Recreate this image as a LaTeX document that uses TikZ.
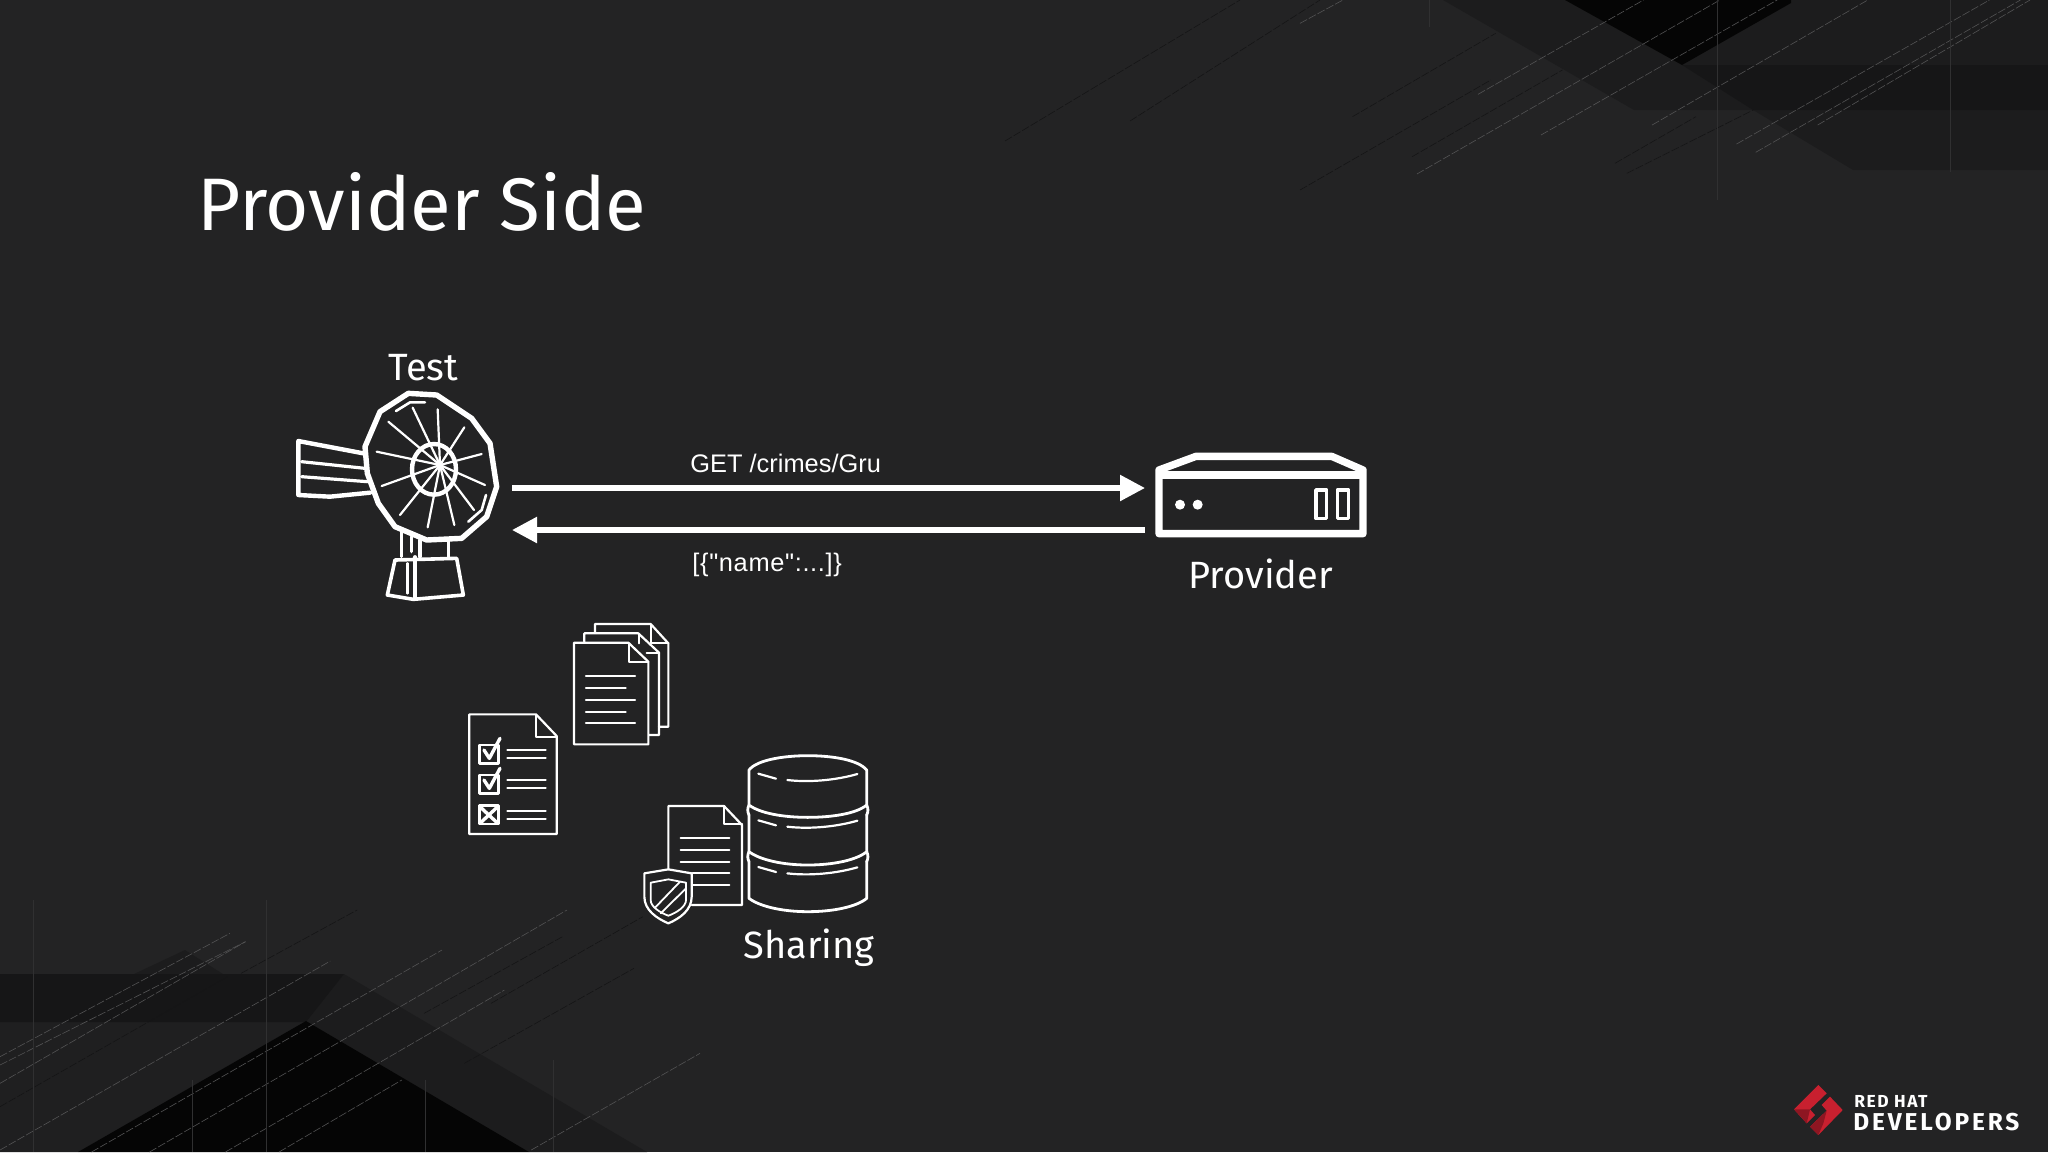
\documentclass[tikz,border=0pt]{standalone}
\usepackage{fontspec}
\setmainfont{Fira Sans}
\newfontfamily\helv{Liberation Sans}
\usetikzlibrary{arrows.meta}
\definecolor{slide}{HTML}{232324}
\definecolor{shadelow}{HTML}{1F1F20}
\definecolor{shadea}{HTML}{1C1C1D}
\definecolor{shadeb}{HTML}{161617}
\definecolor{shadec}{HTML}{050505}
\definecolor{redhat}{HTML}{C8202F}
\definecolor{redhatdark}{HTML}{8E1622}
\tikzset{zoomed/.style={x=0.16667pt,y=-0.16667pt},
         icon/.style={draw=white,line width=1.1pt,line join=round,line cap=round},
         bold/.style={icon,line width=2.7pt},
         backing/.style={icon,fill=slide},
         anchorbox/.style={inner sep=0pt,outer sep=0pt,draw=none},
         slidetext/.style={text=white,anchor=base west,inner sep=0pt},
         reqtext/.style={slidetext,font=\helv\fontsize{12.7}{14}\selectfont},
         iconlabel/.style={slidetext,font=\fontsize{19}{22}\selectfont},
         flow/.style={draw=white,line width=2.7pt,-{Triangle[length=12.5pt,width=12.5pt]}},
         streak/.style={line width=0.3pt,dash pattern=on 4pt off 1pt},
         lightstreak/.style={streak,draw=white!22!slide},
         darkstreak/.style={streak,draw=black!40!slide},
         plumb/.style={line width=0.3pt,draw=white!6!slide}}

\begin{document}
\begin{tikzpicture}[x=0.5pt,y=-0.5pt]
    \useasboundingbox (0,0) rectangle (2048,1152);
    \fill[slide] (0,0) rectangle (2048,1152);

    \fill[shadea] (1443,0) -- (1634,110) -- (1753,110) -- (1853,170) -- (2048,170) -- (2048,0) -- cycle;
    \fill[shadeb] (1682,65) -- (2048,65) -- (2048,110) -- (1753,110) -- cycle;
    \fill[shadec] (1565,0) -- (1682,65) -- (1791,3) -- (1791,0) -- cycle;
    \fill[shadelow] (0,1022) -- (304,1022) -- (78,1152) -- (0,1152) -- cycle;
    \fill[shadea] (134,974) -- (185,950) -- (223,974) -- cycle;
    \fill[shadea] (344,974) -- (647,1152) -- (529,1152) -- (306,1021) -- cycle;
    \fill[shadeb] (0,974) -- (344,974) -- (306,1022) -- (0,1022) -- cycle;
    \fill[shadec] (306,1021) -- (529,1152) -- (78,1152) -- cycle;

    \begin{scope}[shift={(1300,0)},x=0.23855pt,y=-0.16667pt]
        \foreach \xa/\ya/\xb/\yb in {373/283/720/0,245/522/880/0,505/405/1000/0,738/375/1190/0,915/432/1445/0,955/457/1510/0,1085/375/1530/0,0/70/90/0}
            \draw[lightstreak] (\xa,\ya) -- (\xb,\yb);
        \foreach \xa/\ya/\xb/\yb in {110/350/410/100,235/470/550/210,0/570/400/240,660/490/830/350,685/520/950/330}
            \draw[darkstreak] (\xa,\ya) -- (\xb,\yb);
        \foreach \xa/\ya/\xb in {875/600/875,1363/515/1363,272/80/272}
            \draw[plumb] (\xa,\ya) -- (\xb,0);
    \end{scope}
    \begin{scope}[shift={(0,900)},x=0.22321pt,y=-0.16667pt]
        \foreach \xa/\ya/\xb/\yb in {0/470/515/100,0/495/550/125,0/550/550/125,0/750/740/183,205/756/990/150,335/756/1270/30,505/756/1130/270,625/756/900/540,1190/750/1568/460}
            \draw[lightstreak] (\xa,\ya) -- (\xb,\yb);
        \foreach \xa/\ya/\xb/\yb in {540/220/800/30,950/340/1260/110,1040/490/1420/205,1100/310/1440/50,0/620/510/230}
            \draw[darkstreak] (\xa,\ya) -- (\xb,\yb);
        \foreach \xa/\ya in {430/540,597/0,952/540,75/0,1240/480}
            \draw[plumb] (\xa,\ya) -- (\xa,756);
    \end{scope}
    \draw[darkstreak] (1005,141) -- (1240,0);
    \draw[darkstreak] (1130,121) -- (1320,0);

    \node[slidetext,font=\fontsize{37.2}{44}\selectfont] (title) at (197,230) {Provider Side};
    \node[iconlabel] (testlabel) at (388,380) {Test};
    \node[iconlabel] (providerlabel) at (1188,588) {Provider};
    \node[iconlabel] (sharinglabel) at (743,958) {Sharing};
    \node[reqtext] (getlabel) at (690,472) {GET /crimes/Gru};
    \node[reqtext,font=\helv\fontsize{12.7}{14}\selectfont\addfontfeature{LetterSpace=2.6}] (replylabel) at (692,571) {[\{"name":...]\}};

    \begin{scope}[shift={(280,340)},zoomed]
        \draw[bold] (385,160) -- (470,165) -- (575,235) -- (630,310) -- (650,440) -- (620,530) -- (545,595) -- (440,600) -- (345,560) -- (295,490) -- (262,400) -- (255,320) -- (300,215) -- cycle;
        \draw[icon,line width=1.3pt] (348,213) -- (390,187) -- (435,187);
        \draw[icon,line width=1.3pt] (565,545) -- (605,510) -- (618,465);
        \foreach \xa/\ya in {398/203,473/208,553/262,605/342,615/435,582/510,523/555,443/562,360/525,305/438,290/335,325/245}
            \draw[icon] (\xa,\ya) -- (480,375);
        \draw[icon,line width=2.2pt] (462,388) ellipse [x radius=66,y radius=76];
        \draw[icon,line width=2.2pt] (250,340) -- (55,303) -- (55,465) -- (150,470) -- (270,458);
        \draw[icon,line width=1.6pt] (65,365) -- (255,385);
        \draw[icon,line width=1.6pt] (65,410) -- (262,425);
        \draw[icon,line width=1.6pt] (365,570) -- (365,650);
        \draw[icon,line width=1.6pt] (395,590) -- (395,635);
        \draw[icon,line width=1.6pt] (420,600) -- (420,650);
        \draw[icon,line width=1.6pt] (505,600) -- (505,650);
        \draw[icon,line width=1.8pt] (345,660) -- (530,655) -- (550,765) -- (400,778) -- (322,765) -- cycle;
        \draw[icon,line width=1.6pt] (405,650) -- (405,775);
        \draw[icon,line width=1.3pt] (382,670) -- (382,760);
    \end{scope}

    \begin{scope}[shift={(1130,430)},zoomed]
        \draw[icon,line width=3.7pt] (87,120) -- (198,79) -- (605,79) -- (699,120) -- (699,311) -- (87,311) -- cycle;
        \draw[icon,line width=4pt,line cap=butt] (87,134) -- (699,134);
        \fill[white] (150,224) circle [radius=15];
        \fill[white] (203,224) circle [radius=15];
        \draw[icon,line width=1.8pt] (558,180) rectangle (590,265);
        \draw[icon,line width=1.8pt] (622,180) rectangle (655,265);
    \end{scope}

    \begin{scope}[shift={(450,610)},zoomed]
        \draw[icon] (435,68) -- (435,42) -- (602,42) -- (655,100) -- (655,350) -- (627,350);
        \draw[icon] (603,44) -- (603,98) -- (655,98);
        \draw[icon] (403,95) -- (403,70) -- (565,70) -- (627,128) -- (627,375) -- (597,375);
        \draw[icon] (567,72) -- (567,100);
        \draw[icon] (590,128) -- (627,128);
        \draw[backing] (372,98) -- (535,98) -- (595,155) -- (595,403) -- (372,403) -- cycle;
        \draw[icon] (537,100) -- (537,157) -- (595,157);
        \foreach \ya/\xb in {199/555,235/527,270/555,305/527,340/555}
            \draw[icon] (408,\ya) -- (\xb,\ya);

        \draw[icon] (58,313) -- (258,313) -- (320,378) -- (320,672) -- (58,672) -- cycle;
        \draw[icon] (258,315) -- (258,382) -- (320,382);
        \foreach \ya in {405,495,587}
            \draw[icon,line width=1.4pt] (88,\ya) rectangle (145,\ya+55);
        \foreach \ya in {0,90}
            \draw[icon,line width=1.7pt] (102,420+\ya) -- (118,445+\ya) -- (150,385+\ya);
        \draw[icon,line width=1.7pt] (95,595) -- (138,635);
        \draw[icon,line width=1.7pt] (138,595) -- (95,635);
        \foreach \ya in {420,445,510,535,602,628}
            \draw[icon] (172,\ya) -- (287,\ya);

        \draw[icon] (655,775) -- (655,588) -- (822,588) -- (876,645) -- (876,885) -- (725,885);
        \draw[icon] (822,590) -- (822,642) -- (876,642);
        \foreach \ya in {685,720,755}
            \draw[icon] (692,\ya) -- (838,\ya);
        \foreach \ya in {790,825}
            \draw[icon] (728,\ya) -- (838,\ya);
        \draw[backing] (583,790) -- (655,778) -- (725,790) -- (725,860) .. controls (725,900) and (690,925) .. (655,940) .. controls (620,925) and (583,900) .. (583,860) -- cycle;
        \draw[icon,line width=0.9pt] (602,818) -- (655,808) -- (708,818) -- (708,870) .. controls (708,890) and (680,908) .. (655,917) .. controls (630,908) and (602,890) .. (602,870) -- cycle;
        \draw[icon,line width=0.9pt] (615,893) -- (690,815);
        \draw[icon,line width=0.9pt] (632,910) -- (708,835);

        \draw[icon,line width=1.4pt] (897,755) -- (897,865) .. controls (930,890) and (1000,905) .. (1073,905) .. controls (1150,905) and (1220,890) .. (1250,865) -- (1250,755);
        \draw[icon,line width=1.4pt] (897,725) .. controls (892,735) and (892,745) .. (897,755);
        \draw[icon,line width=1.4pt] (1250,725) .. controls (1255,735) and (1255,745) .. (1250,755);
        \draw[icon,line width=1.4pt] (897,615) -- (897,725) .. controls (930,750) and (1000,765) .. (1073,765) .. controls (1150,765) and (1220,750) .. (1250,725) -- (1250,615);
        \draw[icon,line width=1.4pt] (897,585) .. controls (892,595) and (892,605) .. (897,615);
        \draw[icon,line width=1.4pt] (1250,585) .. controls (1255,595) and (1255,605) .. (1250,615);
        \draw[icon,line width=1.4pt] (897,480) .. controls (920,450) and (1000,437) .. (1073,437) .. controls (1150,437) and (1225,450) .. (1250,480) -- (1250,585) .. controls (1220,610) and (1150,622) .. (1073,622) .. controls (1000,622) and (930,610) .. (897,585) -- cycle;
        \foreach \ya in {0,140,280} {
            \draw[icon] (925,491+\ya) -- (978,506+\ya);
            \draw[icon] (1012,510+\ya) .. controls (1080,518+\ya) and (1160,510+\ya) .. (1222,492+\ya);
        }
    \end{scope}

    \node[anchorbox,minimum width=108pt,minimum height=104pt] (dish) at (404,496) {};
    \node[anchorbox,minimum width=111pt,minimum height=42pt] (server) at (1256,496) {};
    \draw[flow] (dish.east |- 0,488) -- (server.west |- 0,488);
    \draw[flow] (server.west |- 0,530) -- (dish.east |- 0,530);

    \begin{scope}[shift={(1770,1070)},zoomed]
        \fill[redhat] (72,118) -- (145,45) -- (170,70) -- (120,118) -- (135,135) -- (110,160) -- cycle;
        \fill[redhat] (218,120) -- (145,195) -- (120,170) -- (170,122) -- (155,105) -- (180,80) -- cycle;
        \fill[redhatdark] (72,118) -- (110,160) -- (120,118) -- cycle;
        \fill[redhatdark] (145,195) -- (120,170) -- (170,122) -- (160,160) -- cycle;
    \end{scope}
    \node[slidetext,font=\bfseries\fontsize{8.7}{10}\selectfont\addfontfeature{LetterSpace=8.5}] (redhatlabel) at (1854,1107) {RED HAT};
    \node[slidetext,font=\bfseries\fontsize{12.2}{14}\selectfont\addfontfeature{LetterSpace=11.8}] (devlabel) at (1853,1130) {DEVELOPERS};
\end{tikzpicture}
\end{document}
